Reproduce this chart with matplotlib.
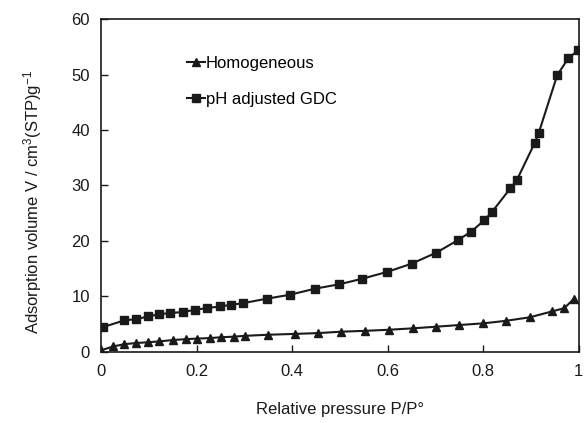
import matplotlib
matplotlib.use("Agg")
import matplotlib.pyplot as plt

plt.rcParams["font.family"] = ["Liberation Sans", "DejaVu Sans"]
plt.rcParams["mathtext.fontset"] = "custom"
plt.rcParams["mathtext.rm"] = "Liberation Sans"
plt.rcParams["mathtext.it"] = "Liberation Sans:italic"

# Homogeneous isotherm
p_homo = [0.0, 0.026, 0.049, 0.073, 0.099, 0.122, 0.151, 0.177, 0.2, 0.228,
          0.252, 0.278, 0.301, 0.35, 0.406, 0.455, 0.503, 0.552, 0.603, 0.652,
          0.702, 0.75, 0.8, 0.847, 0.898, 0.944, 0.97, 0.99]
v_homo = [0.3, 1.0, 1.4, 1.6, 1.75, 1.9, 2.15, 2.3, 2.4, 2.5,
          2.65, 2.75, 2.9, 3.1, 3.25, 3.4, 3.65, 3.8, 4.0, 4.25,
          4.55, 4.85, 5.15, 5.6, 6.25, 7.3, 7.9, 9.6]

# pH adjusted GDC isotherm
p_gdc = [0.005, 0.049, 0.073, 0.099, 0.122, 0.144, 0.171, 0.197, 0.222, 0.249,
         0.273, 0.298, 0.347, 0.395, 0.448, 0.499, 0.547, 0.598, 0.65, 0.702,
         0.748, 0.775, 0.802, 0.819, 0.857, 0.87, 0.908, 0.916, 0.955, 0.978, 0.999]
v_gdc = [4.5, 5.7, 5.9, 6.4, 6.8, 7.0, 7.2, 7.6, 7.9, 8.2,
         8.5, 8.8, 9.6, 10.3, 11.4, 12.2, 13.2, 14.4, 15.9, 17.9,
         20.2, 21.7, 23.7, 25.3, 29.5, 30.9, 37.7, 39.4, 49.9, 52.9, 54.4]

fig = plt.figure(figsize=(5.84, 4.23), dpi=100)
ax = fig.add_axes([0.173, 0.168, 0.818, 0.787])

ax.plot(p_homo, v_homo, color="#1a1a1a", lw=1.5, marker="^", ms=6,
        label="Homogeneous")
ax.plot(p_gdc, v_gdc, color="#1a1a1a", lw=1.5, marker="s", ms=6,
        label="pH adjusted GDC")

ax.set_xlim(0, 1)
ax.set_ylim(0, 60)
ax.set_xticks([0, 0.2, 0.4, 0.6, 0.8, 1])
ax.set_xticklabels(["0", "0.2", "0.4", "0.6", "0.8", "1"])
ax.set_yticks(range(0, 61, 10))
ax.tick_params(direction="in", length=5, width=1, labelsize=12,
               colors="#1a1a1a", top=False, right=False)
ax.tick_params(axis="x", pad=9)
ax.tick_params(axis="y", pad=8)
for s in ax.spines.values():
    s.set_linewidth(1.2)
    s.set_color("#1a1a1a")

ax.set_xlabel("Relative pressure P/P°", fontsize=12, color="#1a1a1a")
ax.set_ylabel("Adsorption volume V / cm$^3$(STP)g$^{-1}$", fontsize=12,
              color="#1a1a1a")
ax.xaxis.set_label_coords(0.5, -0.15)
ax.yaxis.set_label_coords(-0.12, 0.45)

ax.legend(loc="upper left", bbox_to_anchor=(0.148, 0.935), frameon=False,
          fontsize=12, handlelength=1.1, handletextpad=0.05, labelspacing=1.25,
          markerscale=0.9)

fig.savefig("out.png", dpi=100)
